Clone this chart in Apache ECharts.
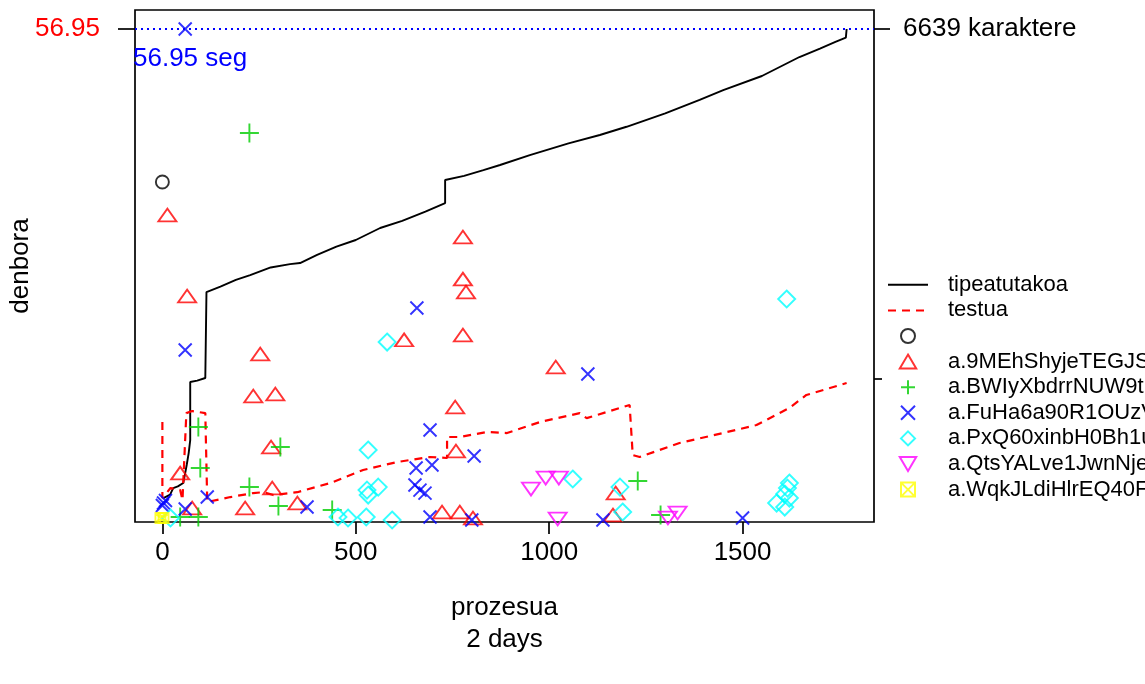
<!DOCTYPE html>
<html><head><meta charset="utf-8">
<script src="https://cdn.jsdelivr.net/npm/echarts@6/dist/echarts.min.js"></script>
<style>html,body{margin:0;padding:0;background:#fff}#c{width:1145px;height:684px}</style>
</head><body><div id="c"></div><script>
// ---- data ----
const xTicks = [0, 500, 1000, 1500];
const yTopValue = 56.95;
const rightTickValues = [56.95, 14.9];
const rightTopLabel = '6639 karaktere';
const xRange = [-70.76, 1839.76];
const yRange = [-2.278, 59.228];

const typedLine = [[2.6,0.6],[20,1.0],[28,1.8],[40,2.0],[54,2.41],[59,3.6],[63,4.6],[68,6.0],[72,7.57],[72,12.62],[72,14.54],[90,14.7],[111,15.02],[114,15.2],[114,25.35],[150,26.0],[190,26.8],[227,27.39],[280,28.3],[330,28.7],[356,28.83],[400,29.8],[450,30.8],[500,31.6],[563,33.04],[620,33.9],[680,35.0],[731,36.04],[731,38.81],[780,39.3],[830,40.0],[873,40.61],[950,41.8],[1050,43.2],[1131,44.21],[1200,45.2],[1300,46.8],[1389,48.42],[1450,49.6],[1550,51.3],[1647,53.58],[1700,54.6],[1740,55.4],[1767,55.9],[1769,56.95]];
const textLine = [[0,9.73],[0,0.6],[21,1.8],[46,1.57],[52,0.36],[62,10.8],[77,11.05],[111,10.8],[116,0.12],[176,0.72],[235,1.2],[261,1.3],[287,0.96],[349,1.3],[434,2.4],[519,3.97],[607,4.93],[692,5.53],[736,5.41],[736,7.93],[769,7.93],[839,8.53],[891,8.41],[976,9.73],[1079,10.8],[1097,10.2],[1208,11.78],[1216,5.77],[1234,5.53],[1337,7.21],[1449,8.41],[1536,9.37],[1621,11.42],[1665,12.98],[1769,14.42]];

const circlePts = [[0,38.57]];
const triPts = [[13,34.6],[64,24.87],[253,17.9],[235,12.86],[292,13.1],[281,6.73],[284,1.8],[214,-0.6],[77,-0.6],[46,3.6],[349,0.0],[625,19.6],[777,31.96],[777,26.9],[785,25.35],[777,20.19],[1017,16.34],[757,11.54],[759,6.25],[723,-1.08],[769,-1.08],[803,-1.8],[1172,1.2],[1165,-1.44]];
const plusPts = [[225,44.45],[93,9.13],[98,4.21],[305,6.73],[225,1.92],[300,-0.36],[439,-0.84],[46,-1.68],[93,-1.68],[1229,2.65],[1288,-1.44]];
const crossPts = [[59,56.95],[59,18.38],[658,23.43],[1100,15.5],[692,8.77],[656,4.21],[697,4.57],[653,2.17],[666,1.56],[679,1.2],[806,5.65],[374,-0.48],[116,0.72],[3,0.0],[0,-0.3],[8,0.3],[59,-0.72],[692,-1.68],[800,-2.04],[1139,-2.04],[1500,-1.8]];
const diamondPts = [[1614,24.51],[581,19.34],[532,6.37],[558,1.92],[529,1.56],[532,0.96],[1061,2.89],[1183,1.92],[1190,-1.08],[1621,2.41],[1616,1.8],[1609,1.08],[1621,0.6],[1588,0.0],[1609,-0.48],[454,-1.68],[480,-1.8],[527,-1.68],[594,-2.04],[21,-1.8]];
const downTriPts = [[953,1.68],[991,3.0],[1025,3.0],[1022,-1.92],[1332,-1.2],[1307,-1.8]];
const boxXPts = [[-5,-1.8],[3,-1.8]];

const seriesNames = ['tipeatutakoa','testua',' ','a.9MEhShyjeTEGJS','a.BWIyXbdrrNUW9t','a.FuHa6a90R1OUzV','a.PxQ60xinbH0Bh1u','a.QtsYALve1JwnNje','a.WqkJLdiHlrEQ40F'];
const seriesColors = ['#000000','#FF0000','#000000','#FF0000','#00CD00','#0000FF','#00FFFF','#FF00FF','#FFFF00'];

// ---- chart ----
const FONT = 'Liberation Sans, Arial, sans-serif';
const SYM = {
  circle: 'circle',
  tri: 'path://M0,-17L10,0L-10,0Z',
  plus: 'path://M0,-10L0,10M-10,0L10,0',
  cross: 'path://M-10,-10L10,10M-10,10L10,-10',
  diamond: 'path://M0,-10L10,0L0,10L-10,0Z',
  down: 'path://M-10,0L10,0L0,17Z',
  boxx: 'path://M-10,-10L10,-10L10,10L-10,10ZM-10,-10L10,10M10,-10L-10,10'
};
function scatter(name, data, sym, size, color) {
  return {
    type: 'scatter', name: name, data: data, symbol: sym, symbolSize: size,
    symbolKeepAspect: true, z: 3,
    itemStyle: {color: 'rgba(0,0,0,0)', borderColor: color, borderWidth: 1.9},
    emphasis: {disabled: true}
  };
}
const legendData = seriesNames.map((n, i) => i < 2 ? {name: n, itemStyle: {opacity: 0}} : {name: n});
const chart = echarts.init(document.getElementById('c'), null, {renderer: 'canvas'});
chart.setOption({
  animation: false,
  backgroundColor: '#fff',
  textStyle: {fontFamily: FONT},
  grid: {left: 135, top: 10, right: 271, bottom: 162, show: true, borderColor: '#000', borderWidth: 1.7,
         backgroundColor: 'rgba(0,0,0,0)', containLabel: false, outerBoundsMode: 'none'},
  xAxis: {
    type: 'value', min: xRange[0], max: xRange[1],
    name: 'prozesua\n2 days', nameLocation: 'middle', nameGap: 70,
    nameTextStyle: {fontSize: 26, color: '#000', lineHeight: 32, fontFamily: FONT},
    axisLine: {show: false, onZero: false}, splitLine: {show: false},
    axisTick: {show: true, length: 12, lineStyle: {color: '#000', width: 1.7}, customValues: xTicks},
    axisLabel: {fontSize: 26, color: '#000', margin: 18, fontFamily: FONT, customValues: xTicks, formatter: v => String(v)}
  },
  yAxis: [{
    type: 'value', min: yRange[0], max: yRange[1], position: 'left',
    name: 'denbora', nameLocation: 'middle', nameGap: 101, nameMoveOverlap: false,
    nameTextStyle: {fontSize: 26, color: '#000', fontFamily: FONT},
    axisLine: {show: false, onZero: false}, splitLine: {show: false},
    axisTick: {show: true, length: 17, lineStyle: {color: '#000', width: 1.7}, customValues: [yTopValue]},
    axisLabel: {fontSize: 26, color: '#FF0000', margin: 35, fontFamily: FONT, customValues: [yTopValue], formatter: v => String(yTopValue)}
  }, {
    type: 'value', min: yRange[0], max: yRange[1], position: 'right',
    axisLine: {show: false, onZero: false}, splitLine: {show: false},
    axisTick: {show: true, length: 16, lineStyle: {color: '#000', width: 1.7}, customValues: rightTickValues},
    axisLabel: {fontSize: 26, color: '#000', margin: 29, fontFamily: FONT, customValues: [rightTickValues[0]], formatter: v => rightTopLabel}
  }],
  legend: {
    orient: 'vertical', left: 882, top: 272, padding: [0, 0, 0, 5],
    backgroundColor: '#fff',
    itemWidth: 40, itemHeight: 14, itemGap: 0,
    textStyle: {fontSize: 22, color: '#000', fontFamily: FONT, lineHeight: 25.6, padding: [0, 0, 0, 15]},
    data: legendData,
    selectedMode: false
  },
  graphic: [{
    type: 'text', left: 133, top: 46, z: 10,
    style: {text: yTopValue + ' seg', fontSize: 26, fill: '#0000FF', fontFamily: FONT}
  }],
  series: [
    {type: 'line', name: seriesNames[0], data: typedLine, symbol: 'none', z: 2,
     lineStyle: {color: seriesColors[0], width: 1.9}, itemStyle: {color: 'rgba(0,0,0,0)'},
     markLine: {silent: true, symbol: 'none', label: {show: false},
       lineStyle: {color: '#0000FF', type: [2, 4], width: 1.8},
       data: [{yAxis: yTopValue}]}},
    {type: 'line', name: seriesNames[1], data: textLine, symbol: 'none', z: 2,
     lineStyle: {color: seriesColors[1], width: 2.2, type: [8, 6]}, itemStyle: {color: 'rgba(0,0,0,0)'}},
    scatter(seriesNames[2], circlePts, SYM.circle, 13, seriesColors[2]),
    scatter(seriesNames[3], triPts, SYM.tri, [18, 15], seriesColors[3]),
    scatter(seriesNames[4], plusPts, SYM.plus, 19, seriesColors[4]),
    scatter(seriesNames[5], crossPts, SYM.cross, 13, seriesColors[5]),
    scatter(seriesNames[6], diamondPts, SYM.diamond, 17, seriesColors[6]),
    scatter(seriesNames[7], downTriPts, SYM.down, [18, 15], seriesColors[7]),
    scatter(seriesNames[8], boxXPts, SYM.boxx, 10, seriesColors[8])
  ]
});
</script></body></html>
